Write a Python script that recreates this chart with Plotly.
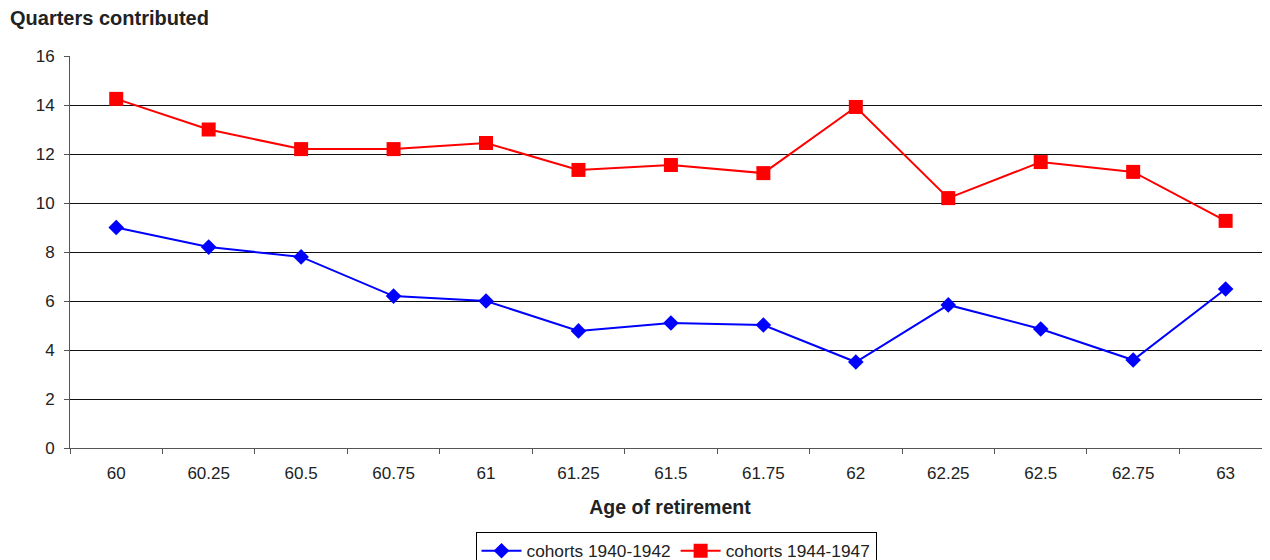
import plotly.graph_objects as go

ages = ["60", "60.25", "60.5", "60.75", "61", "61.25", "61.5", "61.75",
        "62", "62.25", "62.5", "62.75", "63"]
cohorts_1940_1942 = [9.0, 8.2, 7.8, 6.2, 6.0, 4.78, 5.1, 5.02, 3.51, 5.84, 4.86, 3.59, 6.49]
cohorts_1944_1947 = [14.25, 13.0, 12.2, 12.2, 12.45, 11.35, 11.55, 11.22, 13.92, 10.2, 11.67, 11.27, 9.27]
y_ticks = [0, 2, 4, 6, 8, 10, 12, 14, 16]

FONT = "Arial, Liberation Sans, sans-serif"

fig = go.Figure()
fig.add_trace(go.Scatter(
    x=ages, y=cohorts_1940_1942, name="cohorts 1940-1942",
    mode="lines+markers",
    line=dict(color="#0000FF", width=2),
    marker=dict(symbol="diamond", size=12, color="#0000FF"),
))
fig.add_trace(go.Scatter(
    x=ages, y=cohorts_1944_1947, name="cohorts 1944-1947",
    mode="lines+markers",
    line=dict(color="#FF0000", width=2),
    marker=dict(symbol="square", size=14, color="#FF0000"),
))

fig.update_layout(
    width=1262, height=580,
    margin=dict(l=62, r=0, t=48, b=140),
    paper_bgcolor="white", plot_bgcolor="white",
    font=dict(family=FONT, size=17, color="#222"),
    showlegend=True,
    legend=dict(
        orientation="h", x=(676-70)/1200, xanchor="center", y=-(532-448)/392, yanchor="top",
        bordercolor="#000", borderwidth=1, font=dict(size=17.3, color="#222"),
        tracegroupgap=0, itemwidth=40,
    ),
    xaxis=dict(
        type="category", range=[-0.5, 12.48],
        showgrid=False, showline=True, linecolor="#555", linewidth=1,
        ticks="outside", tickson="boundaries", ticklen=5, tickcolor="#555",
        tickfont=dict(size=17, color="#222"), ticklabelstandoff=10,
        title=dict(text="<b>Age of retirement</b>", font=dict(size=19.5, color="#222"), standoff=17),
        zeroline=False,
    ),
    yaxis=dict(
        range=[0, 16], tickvals=y_ticks,
        showgrid=True, gridcolor="#111", gridwidth=1,
        showline=True, linecolor="#555", linewidth=1,
        ticks="outside", ticklen=5, tickcolor="#555",
        tickfont=dict(size=17, color="#222"), ticklabelstandoff=6,
        zeroline=False,
    ),
    annotations=[dict(
        text="<b>Quarters contributed</b>", xref="paper", yref="paper",
        x=-(70-8)/1200, y=1 + (56-18)/392, xanchor="left", yanchor="middle",
        showarrow=False, font=dict(size=20, color="#222", family=FONT),
    )],
)

fig.write_html("out.html", post_script="document.body.style.overflow='hidden';")
